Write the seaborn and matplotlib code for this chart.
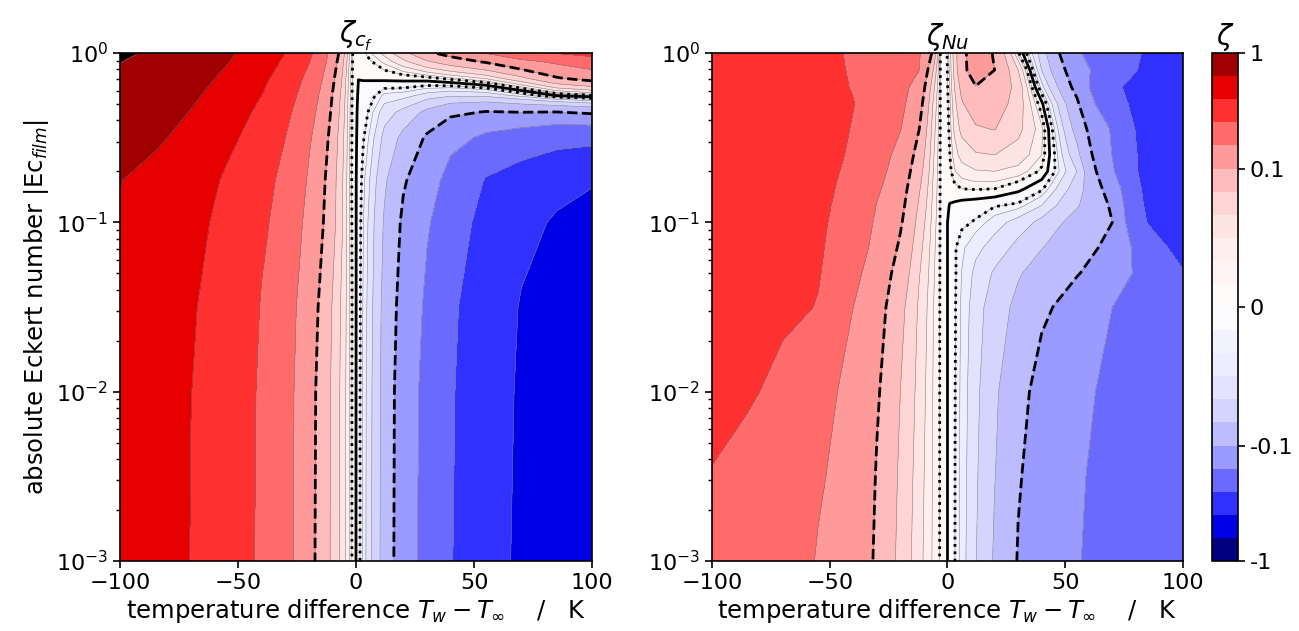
import numpy as np
import matplotlib
matplotlib.use("Agg")
import matplotlib.pyplot as plt
from matplotlib.colors import ListedColormap, BoundaryNorm
import seaborn as sns

sns.set_style("ticks")
plt.rcParams['font.family'] = ['DejaVu Sans']
plt.rcParams['mathtext.fontset'] = 'dejavusans'
for k in ['text.color', 'axes.labelcolor', 'xtick.color', 'ytick.color', 'axes.edgecolor']:
    plt.rcParams[k] = 'black'

# ---------------- data ----------------
dT = [-100, -85, -70, -55, -40, -30, -20, -12, -6, -3, -1, 1, 3, 6, 12, 20, 30, 40, 55, 70, 85, 100]

# left panel: rows of |Ec| (top to bottom)
ec_cf = [1.0, 0.891, 0.708, 0.562, 0.447, 0.316, 0.178, 0.1, 0.0316, 0.01, 0.001]
zeta_cf = [
    [1.07, 0.94, 0.805, 0.675, 0.513, 0.396, 0.273, 0.159, 0.083, 0.03, 0.005, 0.0027, 0.008, 0.015, 0.029, 0.055, 0.092, 0.116, 0.16, 0.212, 0.255, 0.29],
    [1.01, 0.89, 0.769, 0.647, 0.485, 0.371, 0.256, 0.151, 0.074, 0.026, 0.005, 0.0017, 0.005, 0.009, 0.018, 0.035, 0.06, 0.08, 0.105, 0.142, 0.17, 0.2],
    [0.955, 0.836, 0.718, 0.589, 0.433, 0.329, 0.222, 0.133, 0.063, 0.022, 0.005, 0.0001, 0.0005, 0.001, 0.003, 0.004, 0.006, 0.013, 0.026, 0.055, 0.095, 0.117],
    [0.909, 0.79, 0.67, 0.537, 0.397, 0.30, 0.199, 0.120, 0.056, 0.02, 0.005, -0.001, -0.003, -0.006, -0.018, -0.02, -0.03, -0.037, -0.035, -0.02, 0.001, 0.009],
    [0.861, 0.742, 0.622, 0.491, 0.361, 0.276, 0.184, 0.112, 0.052, 0.019, 0.005, -0.002, -0.006, -0.012, -0.032, -0.045, -0.07, -0.09, -0.103, -0.1, -0.102, -0.092],
    [0.789, 0.67, 0.554, 0.439, 0.326, 0.251, 0.167, 0.102, 0.047, 0.018, 0.005, -0.003, -0.009, -0.018, -0.045, -0.07, -0.105, -0.137, -0.17, -0.19, -0.21, -0.213],
    [0.637, 0.567, 0.474, 0.381, 0.289, 0.223, 0.151, 0.092, 0.043, 0.017, 0.005, -0.0043, -0.013, -0.026, -0.058, -0.095, -0.128, -0.18, -0.256, -0.29, -0.33, -0.373],
    [0.618, 0.531, 0.444, 0.357, 0.271, 0.207, 0.14, 0.088, 0.043, 0.017, 0.0055, -0.005, -0.015, -0.03, -0.066, -0.1065, -0.15, -0.204, -0.282, -0.348, -0.417, -0.48],
    [0.60, 0.50, 0.413, 0.33, 0.246, 0.187, 0.125, 0.074, 0.036, 0.018, 0.0058, -0.0055, -0.0165, -0.033, -0.072, -0.116, -0.168, -0.231, -0.319, -0.406, -0.49, -0.57],
    [0.58, 0.497, 0.40, 0.319, 0.238, 0.182, 0.117, 0.07, 0.0345, 0.0172, 0.0057, -0.0058, -0.0175, -0.035, -0.074, -0.123, -0.177, -0.24, -0.328, -0.416, -0.50, -0.59],
    [0.57, 0.49, 0.395, 0.315, 0.235, 0.18, 0.115, 0.069, 0.034, 0.017, 0.0056, -0.006, -0.018, -0.036, -0.075, -0.125, -0.18, -0.245, -0.335, -0.425, -0.51, -0.6],
]

# right panel: rows of |Ec| (top to bottom)
ec_nu = [1.0, 0.794, 0.631, 0.501, 0.355, 0.251, 0.2, 0.158, 0.126, 0.1, 0.0708, 0.0501, 0.0316, 0.01, 0.00316, 0.001]
zeta_nu = [
    [0.33, 0.32, 0.30, 0.275, 0.241, 0.213, 0.185, 0.163, 0.092, 0.0094, 0.003, 0.02, 0.05, 0.09, 0.12, 0.097, 0.012, -0.05, -0.15, -0.21, -0.26, -0.3],
    [0.335, 0.325, 0.305, 0.28, 0.243, 0.213, 0.182, 0.158, 0.0616, 0.0094, 0.003, 0.018, 0.047, 0.09, 0.117, 0.1, 0.04, -0.04, -0.13, -0.205, -0.27, -0.3],
    [0.34, 0.33, 0.31, 0.28, 0.247, 0.213, 0.178, 0.135, 0.046, 0.0094, 0.003, 0.016, 0.04, 0.072, 0.099, 0.092, 0.052, -0.02, -0.115, -0.24, -0.28, -0.31],
    [0.345, 0.335, 0.315, 0.285, 0.253, 0.211, 0.173, 0.118, 0.037, 0.0094, 0.003, 0.014, 0.034, 0.06, 0.08, 0.08, 0.05, 0.003, -0.093, -0.22, -0.29, -0.31],
    [0.35, 0.34, 0.318, 0.285, 0.247, 0.205, 0.16, 0.1, 0.0306, 0.0094, 0.003, 0.012, 0.028, 0.045, 0.06, 0.064, 0.045, 0.018, -0.075, -0.165, -0.3, -0.31],
    [0.35, 0.34, 0.315, 0.282, 0.241, 0.19, 0.138, 0.084, 0.0268, 0.0094, 0.003, 0.01, 0.02, 0.03, 0.038, 0.04, 0.033, 0.016, -0.055, -0.16, -0.29, -0.31],
    [0.348, 0.335, 0.31, 0.278, 0.234, 0.18, 0.128, 0.075, 0.0247, 0.0094, 0.003, 0.008, 0.015, 0.02, 0.024, 0.025, 0.021, 0.008, -0.04, -0.15, -0.29, -0.31],
    [0.345, 0.33, 0.305, 0.273, 0.227, 0.167, 0.119, 0.066, 0.0226, 0.0094, 0.003, 0.004, 0.008, 0.01, 0.011, 0.01, 0.003, -0.008, -0.05, -0.12, -0.28, -0.3],
    [0.34, 0.325, 0.30, 0.27, 0.219, 0.156, 0.112, 0.059, 0.021, 0.0094, 0.003, -0.0005, -0.002, -0.004, -0.006, -0.009, -0.012, -0.025, -0.06, -0.105, -0.27, -0.3],
    [0.335, 0.32, 0.295, 0.266, 0.212, 0.147, 0.105, 0.053, 0.0197, 0.0094, 0.003, -0.003, -0.007, -0.008, -0.011, -0.02, -0.03, -0.045, -0.075, -0.1, -0.255, -0.3],
    [0.33, 0.315, 0.29, 0.263, 0.195, 0.138, 0.094, 0.046, 0.018, 0.0094, 0.003, -0.003, -0.009, -0.014, -0.022, -0.03, -0.045, -0.062, -0.085, -0.11, -0.2, -0.29],
    [0.32, 0.305, 0.283, 0.258, 0.175, 0.128, 0.083, 0.041, 0.017, 0.0094, 0.003, -0.003, -0.0085, -0.016, -0.028, -0.042, -0.06, -0.077, -0.097, -0.13, -0.18, -0.245],
    [0.30, 0.29, 0.275, 0.247, 0.158, 0.118, 0.0716, 0.0365, 0.016, 0.0094, 0.003, -0.003, -0.0088, -0.017, -0.032, -0.05, -0.07, -0.09, -0.122, -0.158, -0.2, -0.24],
    [0.275, 0.262, 0.23, 0.18, 0.14, 0.105, 0.063, 0.033, 0.0151, 0.0094, 0.003, -0.003, -0.0092, -0.018, -0.035, -0.058, -0.088, -0.113, -0.145, -0.17, -0.19, -0.205],
    [0.249, 0.232, 0.205, 0.166, 0.13, 0.098, 0.058, 0.0306, 0.0147, 0.0094, 0.003, -0.003, -0.0094, -0.0185, -0.037, -0.062, -0.096, -0.122, -0.152, -0.176, -0.194, -0.208],
    [0.23, 0.21, 0.185, 0.155, 0.125, 0.095, 0.0547, 0.029, 0.0143, 0.0094, 0.003, -0.003, -0.0095, -0.019, -0.039, -0.066, -0.102, -0.13, -0.155, -0.18, -0.197, -0.21],
]

levels = [-1.0, -0.631, -0.398, -0.251, -0.158, -0.1, -0.0631, -0.0398, -0.0251, -0.0158, -0.01, 0.0,
          0.01, 0.0158, 0.0251, 0.0398, 0.0631, 0.1, 0.158, 0.251, 0.398, 0.631, 1.0]
band_colors = ['#000080', '#0000e6', '#3030ff', '#6a6aff', '#9a9aff', '#bcbcff', '#d4d4ff', '#e3e3ff',
               '#ededff', '#f3f3ff', '#fafaff', '#fffafa', '#fff4f4', '#ffeeee', '#ffe4e4', '#ffd4d4',
               '#ffbcbc', '#ff9a9a', '#ff6a6a', '#ff3030', '#e60000', '#a00000']
line_levels = [-0.1, -0.01, 0.0, 0.01, 0.1]
line_styles = ['--', ':', '-', ':', '--']
cbar_ticks = [-1, -0.1, 0, 0.1, 1]
cbar_ticklabels = ['-1', '-0.1', '0', '0.1', '1']

# ---------------- figure ----------------
cmap = ListedColormap(sns.color_palette(band_colors))
norm = BoundaryNorm(levels, cmap.N)

fig = plt.figure(figsize=(12.99, 6.31), dpi=100)
ax1 = fig.add_axes([0.0924, 0.1109, 0.3634, 0.805])
ax2 = fig.add_axes([0.5481, 0.1109, 0.3626, 0.805])
cax = fig.add_axes([0.9330, 0.1109, 0.0200, 0.805])

TICK_FS = 16
LABEL_FS = 17.5
xlabel = r'temperature difference $T_w - T_\infty$' + '    /   K'

def draw(ax, ec, Z, title):
    X, Y = np.meshgrid(np.array(dT, float), np.array(ec, float))
    Z = np.array(Z, float)
    ax.set_facecolor('black')
    cs = ax.contourf(X, Y, Z, levels=levels, cmap=cmap, norm=norm)
    ax.contour(X, Y, Z, levels=levels, colors='0.45', linewidths=0.35, linestyles='-')
    ax.contour(X, Y, Z, levels=line_levels, colors='k', linewidths=2.0, linestyles=line_styles)
    ax.set_yscale('log')
    ax.set_xlim(-100, 100)
    ax.set_ylim(1e-3, 1)
    ax.set_xticks([-100, -50, 0, 50, 100])
    ax.set_title(title, fontsize=20, pad=5)
    ax.set_xlabel(xlabel, fontsize=LABEL_FS, labelpad=3)
    ax.tick_params(labelsize=TICK_FS, width=1.2, length=5)
    ax.tick_params(which='minor', width=1.0, length=3)
    for s in ax.spines.values():
        s.set_linewidth(1.2)
    return cs

cs = draw(ax1, ec_cf, zeta_cf, r'$\zeta_{c_f}$')
draw(ax2, ec_nu, zeta_nu, r'$\zeta_{Nu}$')
ax1.set_ylabel(r'absolute Eckert number $|$Ec$_{film}|$', fontsize=LABEL_FS, labelpad=4)

cb = fig.colorbar(cs, cax=cax, ticks=cbar_ticks)
cb.ax.set_yticklabels(cbar_ticklabels)
cb.ax.tick_params(labelsize=TICK_FS, width=1.2, length=5)
cb.ax.minorticks_off()
cb.outline.set_linewidth(1.2)
cax.set_title(r'$\zeta$', fontsize=20, pad=5)

fig.savefig('out.png', dpi=100)
